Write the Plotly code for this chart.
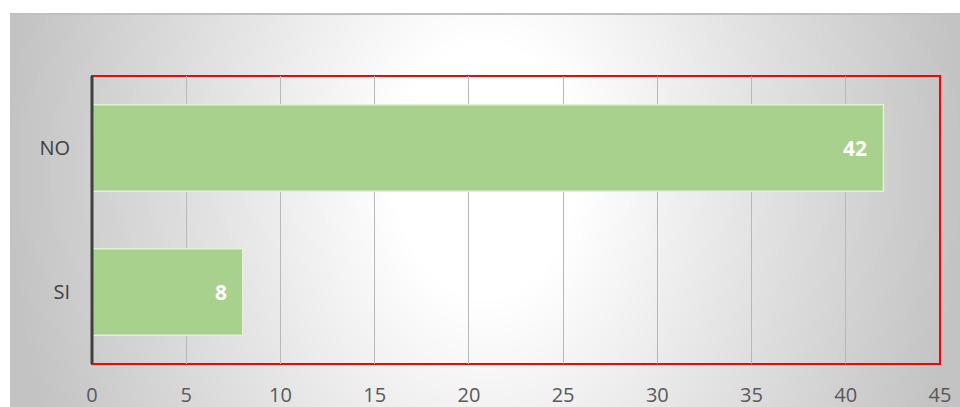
import base64, struct, zlib
import numpy as np
import plotly.graph_objects as go

categories = ["SI", "NO"]
values = [8, 42]
x_ticks = [0, 5, 10, 15, 20, 25, 30, 35, 40, 45]

W, H = 960, 407
ML, MR, MT, MB = 92, 20, 76, 43
PW, PH = W - ML - MR, H - MT - MB

# --- radial gradient background as a PNG ---
IX0, IY0 = 10, 13
IW, IH = W - IX0, H - IY0
ys, xs = np.mgrid[0:IH, 0:IW]
px = xs + IX0
py = ys + IY0
r = np.sqrt(((px - 485) / 470.0) ** 2 + ((py - 170) / 650.0) ** 2)
t = np.clip((r - 0.2) / 0.82, 0, 1)
img = (255 - 60 * t).astype(np.uint8)
img[0:2, :] = 192  # top border line


def png_gray(a):
    h, w = a.shape
    raw = b"".join(b"\x00" + a[i].tobytes() for i in range(h))

    def chunk(tag, data):
        c = struct.pack(">I", len(data)) + tag + data
        return c + struct.pack(">I", zlib.crc32(tag + data) & 0xFFFFFFFF)

    return (b"\x89PNG\r\n\x1a\n" + chunk(b"IHDR", struct.pack(">IIBBBBB", w, h, 8, 0, 0, 0, 0))
            + chunk(b"IDAT", zlib.compress(raw, 9)) + chunk(b"IEND", b""))


src = "data:image/png;base64," + base64.b64encode(png_gray(img)).decode()

fig = go.Figure()
fig.add_trace(go.Bar(
    y=categories, x=values, orientation="h", width=0.6,
    marker=dict(color="#A9D18E", line=dict(color="#E2F0D9", width=1.5)),
    hoverinfo="skip",
))
for c, v in zip(categories, values):
    fig.add_annotation(x=v, y=c, text=f"<b>{v}</b>", showarrow=False,
                       xanchor="right", xshift=-14,
                       font=dict(family="Open Sans", size=21, color="white"))

fig.add_layout_image(dict(
    source=src, xref="paper", yref="paper",
    x=(IX0 - ML) / PW, y=(H - MB - IY0) / PH,
    sizex=IW / PW, sizey=IH / PH, sizing="stretch",
    xanchor="left", yanchor="top", layer="below",
))
fig.add_shape(type="rect", xref="paper", yref="paper", x0=0, x1=1, y0=0, y1=1,
              line=dict(color="#FF0000", width=2), layer="below")
fig.add_shape(type="line", xref="paper", yref="paper", x0=0, x1=0, y0=0, y1=1,
              line=dict(color="#404040", width=3), layer="above")

fig.update_layout(
    width=W, height=H, margin=dict(l=ML, r=MR, t=MT, b=MB),
    paper_bgcolor="white", plot_bgcolor="rgba(0,0,0,0)",
    showlegend=False, bargap=0.4,
    font=dict(family="Open Sans", color="#595959"),
)
fig.update_xaxes(range=[0, 45], tickvals=x_ticks, showgrid=True, gridcolor="#B8B8B8",
                 gridwidth=1, zeroline=False, showline=False, ticks="", automargin=False,
                 tickfont=dict(size=20, color="#595959"), ticklabelstandoff=17)
fig.update_yaxes(showline=False, ticks="", automargin=False,
                 showgrid=False, tickfont=dict(size=20, color="#404040"),
                 ticklabelstandoff=21)

fig.write_html("out.html")
